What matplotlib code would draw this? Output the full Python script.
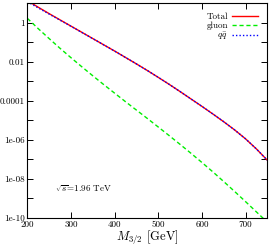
import matplotlib
matplotlib.use("Agg")
import matplotlib.pyplot as plt
from matplotlib.ticker import FixedLocator, NullFormatter

plt.rcParams['mathtext.fontset'] = 'cm'
plt.rcParams['font.family'] = ['cmr10', 'DejaVu Serif']
plt.rcParams['axes.unicode_minus'] = False

mass = [200, 225, 250, 275, 300, 325, 350, 375, 400, 425, 450, 475,
        500, 525, 550, 575, 600, 625, 650, 675, 700, 725, 750]
total = [13.8, 6.31, 2.95, 1.41, 0.676, 0.324, 0.155, 0.0741, 0.0355, 0.0166,
         7.76e-3, 3.55e-3, 1.58e-3, 6.92e-4, 2.95e-4, 1.23e-4, 5.13e-5, 2.09e-5,
         8.32e-6, 3.16e-6, 1.10e-6, 3.31e-7, 8.71e-8]
gluon = [1.70, 0.501, 0.155, 0.0490, 0.0162, 5.50e-3, 1.91e-3, 6.76e-4, 2.45e-4,
         8.91e-5, 3.31e-5, 1.23e-5, 4.47e-6, 1.62e-6, 5.75e-7, 2.00e-7, 6.76e-8,
         2.24e-8, 7.08e-9, 2.19e-9, 6.61e-10, 1.95e-10, 5.75e-11]
qqbar = [12.1, 5.81, 2.80, 1.36, 0.660, 0.318, 0.153, 0.0734, 0.0353, 0.0165,
         7.73e-3, 3.54e-3, 1.58e-3, 6.92e-4, 2.95e-4, 1.23e-4, 5.13e-5, 2.09e-5,
         8.32e-6, 3.16e-6, 1.10e-6, 3.31e-7, 8.71e-8]

xticks = [200, 300, 400, 500, 600, 700]
yticks = [1, 1e-2, 1e-4, 1e-6, 1e-8, 1e-10]
ytick_labels = ['1', '0.01', '0.0001', '1e-06', '1e-08', '1e-10']
yminor = [10, 0.1, 1e-3, 1e-5, 1e-7, 1e-9]

fig = plt.figure(figsize=(2.71, 2.48), dpi=100)
ax = fig.add_axes([0.1007, 0.1222, 0.8863, 0.8645])

ax.plot(mass, total, color='#ff0000', lw=1.0, label='Total')
ax.plot(mass, gluon, color='#00ee00', lw=1.0, ls=(0, (3, 2)), label='gluon')
ax.plot(mass, qqbar, color='#0000ff', lw=1.0, ls=(0, (1, 1.5)), label=r'$q\bar{q}$')

ax.set_yscale('log')
ax.set_xlim(200, 750)
ax.set_ylim(1e-10, 10)

ax.xaxis.set_major_locator(FixedLocator(xticks))
ax.set_xticklabels([str(v) for v in xticks])
ax.yaxis.set_major_locator(FixedLocator(yticks))
ax.set_yticklabels(ytick_labels)
ax.yaxis.set_minor_locator(FixedLocator(yminor))
ax.yaxis.set_minor_formatter(NullFormatter())

ax.tick_params(which='both', direction='in', top=True, right=True, labelsize=6.5, pad=2, width=0.7)
ax.tick_params(which='major', length=4)
ax.tick_params(which='minor', length=4)
for s in ax.spines.values():
    s.set_linewidth(0.8)

ax.set_xlabel(r'$M_{3/2}$ [GeV]', fontsize=9, labelpad=0)
ax.text(263, 3.0e-9, r'$\sqrt{s}$=1.96 TeV', fontsize=6.5, va='center', ha='left')

leg = ax.legend(loc='upper right', frameon=False, markerfirst=False, fontsize=6.5,
                handlelength=2.8, handletextpad=0.5, labelspacing=0.05,
                borderaxespad=0.3, bbox_to_anchor=(0.985, 0.985))

fig.savefig('out.png', dpi=100)
